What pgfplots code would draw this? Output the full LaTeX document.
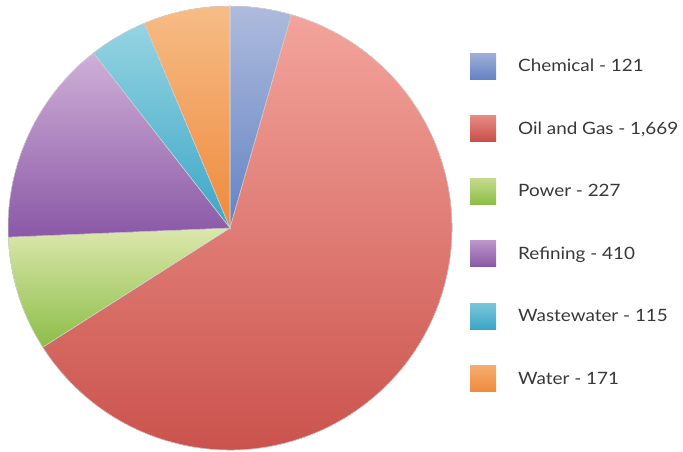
\documentclass[border=0pt]{standalone}
\usepackage{pgfplots}
\usepackage{pgfplotstable}
\pgfplotsset{compat=1.18}
\usepackage{fontspec}
\setmainfont{Lato}
\newfontfamily\legfont[FakeStretch=1.11]{Lato}

\definecolor{chemT}{HTML}{AEBBDD}
\definecolor{chemB}{HTML}{6383C4}
\definecolor{oilT}{HTML}{F3A49C}
\definecolor{oilB}{HTML}{C84E48}
\definecolor{powT}{HTML}{DCE7AC}
\definecolor{powB}{HTML}{8CBE48}
\definecolor{refT}{HTML}{CFB0D8}
\definecolor{refB}{HTML}{8A58A6}
\definecolor{wasT}{HTML}{96D4E2}
\definecolor{wasB}{HTML}{3AA6C6}
\definecolor{watT}{HTML}{F6BC86}
\definecolor{watB}{HTML}{EF8A3C}

\pgfplotstableread[col sep=comma]{
label,value
Chemical,121
Oil and Gas,1669
Power,227
Refining,410
Wastewater,115
Water,171
}\piedata

\begin{document}
\begin{tikzpicture}
\pgfplotstablegetelem{0}{value}\of\piedata \let\vA\pgfplotsretval
\pgfplotstablegetelem{1}{value}\of\piedata \let\vB\pgfplotsretval
\pgfplotstablegetelem{2}{value}\of\piedata \let\vC\pgfplotsretval
\pgfplotstablegetelem{3}{value}\of\piedata \let\vD\pgfplotsretval
\pgfplotstablegetelem{4}{value}\of\piedata \let\vE\pgfplotsretval
\pgfplotstablegetelem{5}{value}\of\piedata \let\vF\pgfplotsretval
\pgfmathsetmacro\total{\vA+\vB+\vC+\vD+\vE+\vF}
\pgfmathsetmacro\aA{90-360*(\vA/\total)}
\pgfmathsetmacro\aB{\aA-360*(\vB/\total)}
\pgfmathsetmacro\aC{\aB-360*(\vC/\total)}
\pgfmathsetmacro\aD{\aC-360*(\vD/\total)}
\pgfmathsetmacro\aE{\aD-360*(\vE/\total)}
\pgfmathsetmacro\aF{\aE-360*(\vF/\total)}
\def\R{222pt}
\begin{axis}[
  scale only axis, width=683pt, height=452pt,
  xmin=0, xmax=683, ymin=0, ymax=452,
  hide axis,
  legend image code/.code={\fill[draw=none,#1] (0pt,-13pt) rectangle (26pt,13pt);},
  legend cell align=left,
  legend style={at={(axis cs:470,399)}, anchor=north west, draw=none, fill=none,
    font=\legfont\fontsize{17}{19}\selectfont, text=black!78, row sep=36.5pt, inner sep=0pt,
    nodes={inner sep=0pt},
    /tikz/every odd column/.append style={column sep=22pt}},
]
\addplot[draw=none, forget plot] coordinates {(0,0) (683,452)};
\begin{scope}[draw=white!88!black, line width=0.5pt]
\filldraw[top color=chemT, bottom color=chemB] (axis cs:230,224) -- ++(90:\R) arc[start angle=90, end angle=\aA, radius=\R] -- cycle;
\filldraw[top color=oilT, bottom color=oilB] (axis cs:230,224) -- ++(\aA:\R) arc[start angle=\aA, end angle=\aB, radius=\R] -- cycle;
\filldraw[top color=powT, bottom color=powB] (axis cs:230,224) -- ++(\aB:\R) arc[start angle=\aB, end angle=\aC, radius=\R] -- cycle;
\filldraw[top color=refT, bottom color=refB] (axis cs:230,224) -- ++(\aC:\R) arc[start angle=\aC, end angle=\aD, radius=\R] -- cycle;
\filldraw[top color=wasT, bottom color=wasB] (axis cs:230,224) -- ++(\aD:\R) arc[start angle=\aD, end angle=\aE, radius=\R] -- cycle;
\filldraw[top color=watT, bottom color=watB] (axis cs:230,224) -- ++(\aE:\R) arc[start angle=\aE, end angle=\aF, radius=\R] -- cycle;
\end{scope}
\addlegendimage{top color=chemT!80!chemB, bottom color=chemB}
\addlegendentry{Chemical - 121}
\addlegendimage{top color=oilT!70!oilB, bottom color=oilB}
\addlegendentry{Oil and Gas - 1,669}
\addlegendimage{top color=powT!70!powB, bottom color=powB}
\addlegendentry{Power - 227}
\addlegendimage{top color=refT!70!refB, bottom color=refB}
\addlegendentry{Refining - 410}
\addlegendimage{top color=wasT!70!wasB, bottom color=wasB}
\addlegendentry{Wastewater - 115}
\addlegendimage{top color=watT!70!watB, bottom color=watB}
\addlegendentry{Water - 171}
\end{axis}
\end{tikzpicture}
\end{document}
